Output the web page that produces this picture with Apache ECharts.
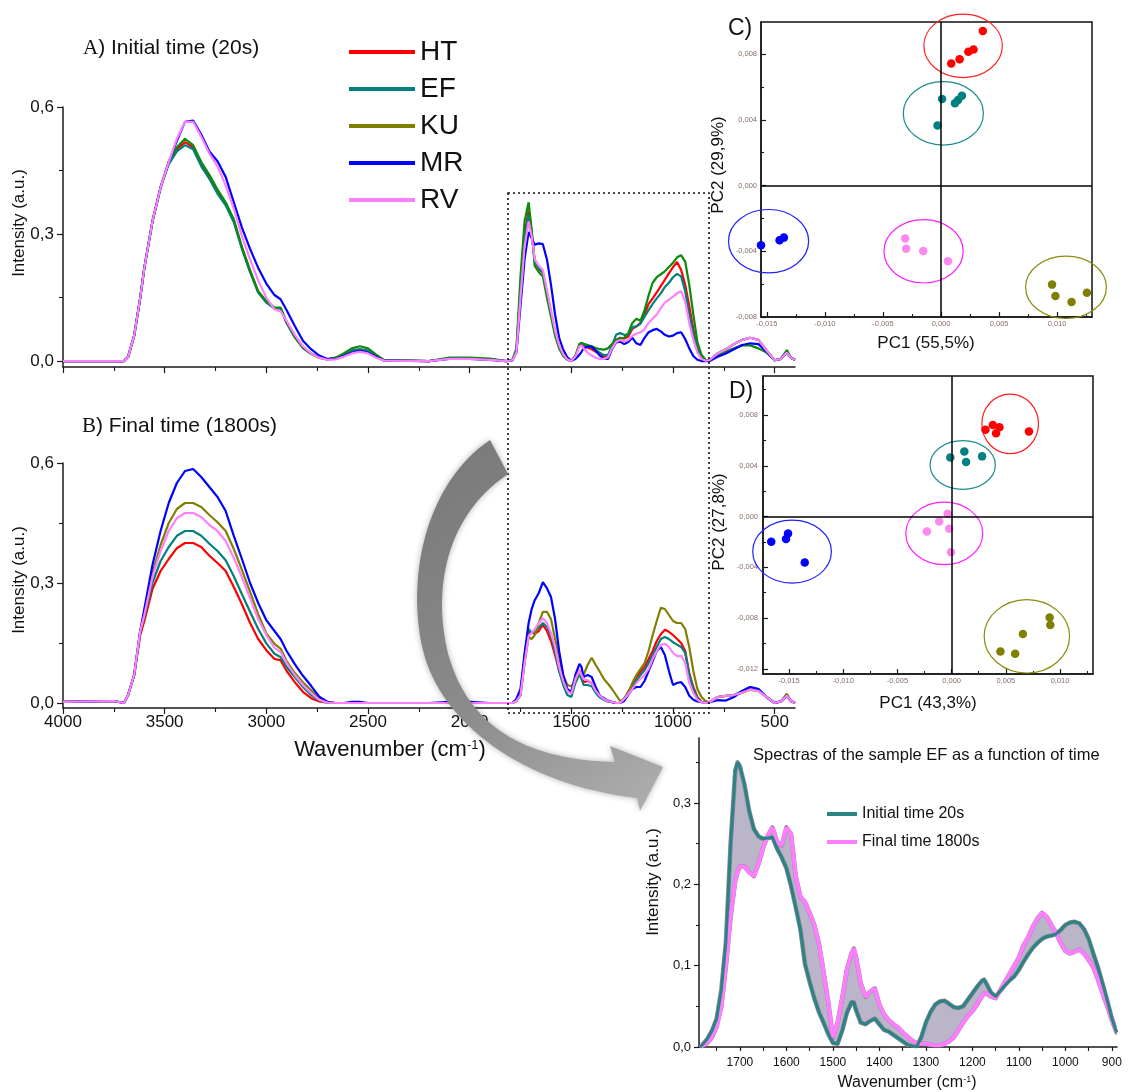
<!DOCTYPE html>
<html><head><meta charset="utf-8">
<script src="https://cdn.jsdelivr.net/npm/echarts@6/dist/echarts.min.js"></script>
<style>html,body{margin:0;padding:0;background:#fff}#c{width:1129px;height:1092px}</style>
</head><body><div id="c"></div>
<script>
// ---------- wavenumber grid for panels A and B ----------
const WN = [4000,3750,3700,3680,3650,3620,3600,3560,3520,3480,3440,
 3400,3360,3320,3280,3240,3200,3160,3120,3080,3040,3000,
 2960,2930,2900,2860,2820,2780,2740,2700,2660,2620,2580,2540,2500,2460,2420,
 2200,2100,2000,1900,
 1820,1790,1770,1750,1730,1710,1695,1680,1660,1640,1620,1600,1580,1560,1540,1520,1500,
 1480,1460,1450,1440,1420,1400,1380,1360,1340,1320,1300,1280,1260,1240,1220,
 1200,1180,1160,1140,1120,1100,1080,1060,1040,1020,1000,980,960,940,920,900,880,860,840,820,
 780,740,700,660,620,580,540,500,470,440,420,400];

// ---------- A) Initial time (20s) ----------
const A_HT = [0,0,0,0.01,0.06,0.15,0.22,0.33,0.41,0.47,0.5,
 0.517,0.505,0.465,0.435,0.4,0.371,0.331,0.267,0.212,0.163,0.14,
 0.125,0.125,0.09,0.057,0.031,0.017,0.008,0.004,0.007,0.015,0.025,0.028,0.024,0.012,0.002,
 0,0.006,0.006,0.004,
 0,0.002,0.025,0.17,0.3,0.355,0.305,0.235,0.218,0.208,0.16,0.113,0.066,0.034,0.014,0.004,0,
 0.011,0.038,0.04,0.037,0.032,0.028,0.022,0.016,0.011,0.012,0.033,0.05,0.055,0.053,0.058,
 0.076,0.082,0.09,0.11,0.135,0.148,0.162,0.177,0.192,0.207,0.222,0.234,0.215,0.18,0.13,0.075,0.03,0.01,0.002,0.002,
 0.018,0.028,0.04,0.05,0.055,0.05,0.025,0.002,0.005,0.02,0.008,0.003];
const A_EF = [0,0,0,0.01,0.06,0.15,0.22,0.33,0.41,0.465,0.495,
 0.51,0.5,0.46,0.43,0.395,0.368,0.328,0.265,0.21,0.162,0.138,
 0.124,0.125,0.09,0.056,0.031,0.017,0.008,0.004,0.007,0.015,0.025,0.028,0.024,0.012,0.002,
 0,0.006,0.006,0.004,
 0,0.002,0.025,0.17,0.29,0.345,0.3,0.235,0.22,0.21,0.16,0.115,0.068,0.035,0.015,0.004,0,
 0.012,0.04,0.043,0.04,0.036,0.033,0.026,0.02,0.014,0.014,0.036,0.062,0.066,0.062,0.062,
 0.08,0.082,0.088,0.105,0.12,0.135,0.148,0.16,0.175,0.185,0.198,0.206,0.2,0.165,0.11,0.065,0.025,0.008,0.002,0.002,
 0.018,0.028,0.04,0.05,0.055,0.05,0.025,0.002,0.005,0.02,0.008,0.003];
const A_KU = [0,0,0,0.01,0.06,0.15,0.22,0.33,0.41,0.47,0.505,
 0.525,0.51,0.47,0.44,0.405,0.375,0.335,0.27,0.215,0.165,0.142,
 0.126,0.126,0.092,0.058,0.032,0.018,0.008,0.004,0.008,0.018,0.03,0.035,0.03,0.015,0.002,
 0,0.008,0.008,0.006,
 0,0.002,0.03,0.2,0.33,0.375,0.31,0.225,0.21,0.2,0.15,0.105,0.06,0.03,0.012,0.003,0,
 0.012,0.04,0.043,0.041,0.038,0.035,0.031,0.028,0.027,0.03,0.04,0.05,0.053,0.055,0.066,
 0.09,0.1,0.095,0.12,0.155,0.185,0.198,0.205,0.212,0.222,0.232,0.245,0.25,0.235,0.18,0.11,0.045,0.015,0.003,0,
 0.014,0.022,0.03,0.037,0.037,0.03,0.02,0.002,0.005,0.026,0.008,0.003];
const A_MR = [0,0,0,0.01,0.06,0.15,0.22,0.33,0.41,0.47,0.52,
 0.565,0.568,0.535,0.495,0.472,0.435,0.375,0.315,0.265,0.22,0.183,
 0.156,0.146,0.12,0.083,0.048,0.028,0.013,0.005,0.005,0.012,0.02,0.024,0.02,0.01,0.001,
 0,0.005,0.005,0.003,
 0,0.002,0.02,0.13,0.24,0.305,0.29,0.275,0.278,0.276,0.24,0.18,0.11,0.055,0.027,0.009,0.001,
 0.005,0.015,0.022,0.03,0.034,0.034,0.025,0.013,0.006,0.005,0.028,0.044,0.046,0.04,0.045,
 0.055,0.042,0.038,0.055,0.068,0.073,0.076,0.07,0.062,0.058,0.06,0.066,0.068,0.052,0.03,0.012,0.003,0,0,0,
 0.01,0.018,0.028,0.038,0.042,0.04,0.022,0.002,0.005,0.02,0.008,0.003];
const A_RV = [0,0,0,0.01,0.06,0.15,0.22,0.33,0.41,0.47,0.525,
 0.565,0.565,0.53,0.49,0.46,0.415,0.36,0.295,0.24,0.19,0.15,
 0.122,0.118,0.095,0.062,0.035,0.018,0.008,0.003,0.004,0.01,0.018,0.022,0.018,0.008,0.001,
 0,0.005,0.005,0.003,
 0,0.002,0.02,0.15,0.27,0.33,0.295,0.24,0.225,0.215,0.168,0.12,0.072,0.038,0.016,0.004,0,
 0.01,0.035,0.037,0.03,0.02,0.013,0.008,0.005,0.005,0.009,0.03,0.045,0.05,0.046,0.05,
 0.06,0.065,0.068,0.075,0.09,0.1,0.11,0.125,0.138,0.145,0.152,0.16,0.165,0.14,0.09,0.05,0.02,0.005,0.001,0.002,
 0.018,0.028,0.04,0.05,0.055,0.05,0.025,0.002,0.005,0.02,0.008,0.003];

// ---------- B) Final time (1800s) ----------
const B_HT = [0.003,0.005,0,0.02,0.07,0.17,0.205,0.285,0.33,0.36,0.387,
 0.4,0.4,0.39,0.368,0.35,0.33,0.29,0.247,0.2,0.16,0.132,
 0.11,0.107,0.08,0.052,0.028,0.012,0.004,0.001,0,0,0,0,0,0,0,
 0,0,0,0,
 0,0,0.005,0.02,0.107,0.175,0.177,0.173,0.18,0.195,0.18,0.155,0.12,0.08,0.05,0.03,0.03,
 0.06,0.082,0.07,0.052,0.055,0.05,0.032,0.017,0.008,0.004,0.002,0,0,0.01,0.028,
 0.045,0.065,0.078,0.09,0.11,0.13,0.155,0.172,0.183,0.178,0.17,0.16,0.15,0.13,0.075,0.04,0.015,0.003,0,0.002,
 0.015,0.018,0.02,0.026,0.036,0.032,0.015,0,0.004,0.018,0.005,0];
const B_EF = [0.003,0.005,0,0.02,0.07,0.18,0.215,0.3,0.355,0.39,0.418,
 0.43,0.43,0.418,0.398,0.38,0.357,0.317,0.272,0.228,0.185,0.149,
 0.123,0.115,0.09,0.065,0.04,0.02,0.007,0.001,0,0,0,0,0,0,0,
 0,0,0,0,
 0,0,0.005,0.02,0.12,0.185,0.175,0.177,0.188,0.2,0.19,0.17,0.13,0.08,0.045,0.02,0.015,
 0.05,0.072,0.06,0.045,0.045,0.042,0.025,0.014,0.008,0.004,0.002,0,0,0.012,0.025,
 0.04,0.055,0.07,0.082,0.1,0.12,0.14,0.16,0.165,0.16,0.152,0.146,0.14,0.125,0.07,0.035,0.012,0.003,0,0.002,
 0.015,0.018,0.02,0.03,0.04,0.035,0.015,0,0.004,0.018,0.005,0];
const B_KU = [0.003,0.005,0,0.02,0.07,0.18,0.225,0.325,0.395,0.45,0.485,
 0.5,0.5,0.49,0.47,0.452,0.43,0.385,0.333,0.278,0.222,0.174,
 0.148,0.136,0.105,0.075,0.052,0.032,0.012,0.002,0,0,0,0,0,0,0,
 0,0,0,0,
 0,0,0.005,0.02,0.1,0.165,0.16,0.17,0.2,0.228,0.228,0.21,0.16,0.115,0.07,0.045,0.042,
 0.055,0.08,0.076,0.07,0.095,0.113,0.095,0.078,0.06,0.048,0.035,0.02,0.005,0.008,0.025,
 0.05,0.07,0.085,0.1,0.13,0.17,0.205,0.238,0.235,0.22,0.205,0.2,0.2,0.185,0.14,0.08,0.035,0.015,0.005,0.002,
 0.015,0.018,0.02,0.026,0.033,0.03,0.015,0,0.004,0.023,0.005,0];
const B_MR = [0.003,0.005,0,0.02,0.07,0.18,0.235,0.345,0.43,0.5,0.55,
 0.58,0.585,0.565,0.54,0.515,0.48,0.418,0.36,0.3,0.25,0.207,
 0.18,0.16,0.13,0.097,0.068,0.043,0.016,0.003,0,0,0.003,0.003,0,0,0,
 0,0.003,0.003,0,
 0,0,0.01,0.035,0.123,0.2,0.235,0.257,0.275,0.302,0.287,0.265,0.21,0.13,0.07,0.035,0.028,
 0.07,0.098,0.09,0.065,0.07,0.065,0.04,0.018,0.012,0.006,0.003,0,0,0.005,0.02,
 0.035,0.04,0.04,0.055,0.08,0.105,0.13,0.14,0.12,0.08,0.045,0.05,0.052,0.04,0.018,0.008,0.004,0.002,0,0.002,
 0.007,0.006,0.015,0.03,0.04,0.035,0.015,0,0.004,0.018,0.005,0];
const B_RV = [0.003,0.005,0,0.02,0.07,0.18,0.22,0.315,0.38,0.43,0.462,
 0.475,0.475,0.465,0.445,0.43,0.405,0.363,0.315,0.262,0.21,0.17,
 0.138,0.128,0.1,0.07,0.045,0.025,0.008,0.001,0,0,0,0,0,0,0,
 0,0,0,0,
 0,0,0.005,0.02,0.1,0.168,0.175,0.185,0.2,0.212,0.2,0.175,0.14,0.09,0.055,0.03,0.023,
 0.06,0.082,0.07,0.06,0.057,0.05,0.03,0.018,0.01,0.005,0.003,0,0,0.01,0.022,
 0.035,0.05,0.06,0.07,0.085,0.11,0.13,0.145,0.148,0.14,0.125,0.117,0.118,0.1,0.05,0.025,0.008,0.002,0,0.002,
 0.015,0.018,0.02,0.026,0.034,0.03,0.015,0,0.004,0.018,0.005,0];

// ---------- PCA scores [PC1, PC2] ----------
const C_HT = [[0.00088,0.00743],[0.0016,0.00768],[0.00235,0.00814],[0.0028,0.00828],[0.0036,0.0094]];
const C_EF = [[0.00009,0.00526],[-0.0003,0.00365],[0.0012,0.005],[0.00147,0.0052],[0.0018,0.00546]];
const C_KU = [[0.00956,-0.00603],[0.00985,-0.00672],[0.01124,-0.00709],[0.01256,-0.00652]];
const C_MR = [[-0.01565,-0.00329],[-0.0155,-0.00363],[-0.0139,-0.00333],[-0.01353,-0.00317]];
const C_RV = [[-0.00309,-0.00323],[-0.003,-0.00384],[-0.00153,-0.00398],[0.00059,-0.00461]];
// confidence ellipses [cx, cy, rx, ry]
const C_ELL = [[0.0019,0.0085,0.00338,0.00193],[0.0002,0.00439,0.00345,0.00193],[0.01076,-0.00619,0.00348,0.0019],[-0.01485,-0.00339,0.00345,0.00193],[-0.0015,-0.004,0.00341,0.00193]];

const D_HT = [[0.00312,0.00683],[0.0038,0.00722],[0.0041,0.00657],[0.00441,0.00704],[0.00713,0.0067]];
const D_EF = [[-0.00012,0.00466],[0.00117,0.00513],[0.00133,0.0043],[0.00281,0.00474]];
const D_KU = [[0.0045,-0.01063],[0.00586,-0.01081],[0.00657,-0.00925],[0.00904,-0.00795],[0.0091,-0.00855]];
const D_MR = [[-0.01664,-0.00198],[-0.01528,-0.00177],[-0.01509,-0.00133],[-0.01355,-0.00362]];
const D_RV = [[-0.00228,-0.00117],[-0.00114,-0.00039],[-0.00037,0.00023],[-0.00022,-0.00096],[-0.00006,-0.00281]];
const D_ELL = [[0.0054,0.0073,0.00261,0.00235],[0.00102,0.00406,0.00301,0.00192],[0.00694,-0.00943,0.00394,0.00289],[-0.01472,-0.00276,0.00363,0.00248],[-0.00068,-0.00133,0.00355,0.00246]];

// ---------- EF sample spectra vs time ----------
const EF_WN = [1785,1770,1760,1750,1740,1730,1720,1710,1705,1700,
 1690,1680,1670,1660,1650,1640,1630,1620,1610,1600,1590,1580,1570,1560,1550,1540,1530,1520,1510,1500,1490,1480,1470,1460,
 1455,
 1450,1440,1430,1420,1410,1400,1390,1380,1370,1360,1350,1340,1330,1320,1310,1300,1290,1280,1270,1260,1250,1240,1230,1220,1210,1200,1190,1180,
 1175,
 1170,1160,1150,1140,1130,1120,1110,1100,1090,1080,1070,1060,1050,1040,1030,1020,1010,1000,990,980,970,960,950,940,930,920,910,900,890];
const EF_INIT = [0,0.01,0.02,0.035,0.07,0.13,0.25,0.34,0.35,0.345,
 0.322,0.29,0.268,0.259,0.256,0.257,0.258,0.244,0.233,0.22,0.198,0.172,0.145,0.102,0.08,0.06,0.043,0.03,0.016,0.005,0.004,0.02,0.042,0.055,
 0.055,
 0.045,0.03,0.028,0.032,0.035,0.028,0.021,0.019,0.015,0.011,0.007,0.003,0.001,0,0.012,0.03,0.043,0.052,0.056,0.057,0.053,0.049,0.048,0.05,0.058,0.066,0.074,0.081,
 0.083,
 0.078,0.067,0.062,0.069,0.076,0.082,0.087,0.095,0.105,0.114,0.122,0.128,0.133,0.136,0.137,0.139,0.144,0.15,0.153,0.154,0.152,0.145,0.133,0.115,0.098,0.078,0.057,0.035,0.018];
const EF_FINAL = [0,0.005,0.012,0.025,0.05,0.1,0.16,0.205,0.215,0.222,
 0.222,0.215,0.21,0.225,0.245,0.26,0.27,0.252,0.248,0.27,0.262,0.21,0.185,0.178,0.165,0.15,0.127,0.092,0.055,0.012,0.03,0.06,0.095,0.115,
 0.121,
 0.11,0.078,0.062,0.068,0.072,0.052,0.04,0.033,0.028,0.024,0.018,0.013,0.008,0.005,0.004,0.004,0.003,0.002,0.002,0.004,0.007,0.012,0.021,0.03,0.038,0.044,0.052,0.062,
 0.066,
 0.066,0.062,0.06,0.07,0.08,0.09,0.1,0.11,0.125,0.135,0.148,0.158,0.165,0.16,0.15,0.14,0.128,0.118,0.115,0.117,0.12,0.115,0.107,0.098,0.083,0.066,0.05,0.033,0.018];

// ---------- tick values ----------
const SPEC_X_MAJ = [4000,3500,3000,2500,2000,1500,1000,500];
const SPEC_X_MIN = [3750,3250,2750,2250,1750,1250,750];
const SPEC_Y_MAJ = [0,0.3,0.6];
const SPEC_Y_MIN = [0.15,0.45];
const PC_X_MAJ = [-0.015,-0.01,-0.005,0,0.005,0.01];
const PC_X_MIN = [-0.0125,-0.0075,-0.0025,0.0025,0.0075,0.0125];
const C_Y_MAJ = [-0.008,-0.004,0,0.004,0.008];
const C_Y_MIN = [-0.006,-0.002,0.002,0.006];
const D_Y_MAJ = [-0.012,-0.008,-0.004,0,0.004,0.008];
const D_Y_MIN = [-0.01,-0.006,-0.002,0.002,0.006,0.01];
const EF_X_MAJ = [1700,1600,1500,1400,1300,1200,1100,1000,900];
const EF_X_MIN = [1750,1650,1550,1450,1350,1250,1150,1050,950];
const EF_Y_MAJ = [0,0.1,0.2,0.3];
const EF_Y_MIN = [0.05,0.15,0.25,0.35];

const NAMES = ['HT','EF','KU','MR','RV'];
const COL = {HT:'#ff0000', EF:'#008080', KU:'#808000', MR:'#0000ff', RV:'#ff80ff'};
const KU_A = '#0b8a0b';
const F = '"Liberation Sans", Arial, sans-serif';
const comma = d => v => (Math.abs(v) < 1e-12 ? 0 : v).toFixed(d).replace('.', ',');

// ---------- custom shapes (ellipse outline, curved arrow) ----------
const K = 0.5522847;
const EllShape = echarts.graphic.extendShape({
  type:'pcaEllipse',
  shape:{cx:0, cy:0, rx:1, ry:1},
  buildPath(ctx, s) {
    const {cx, cy, rx, ry} = s, ox = rx*K, oy = ry*K;
    ctx.moveTo(cx - rx, cy);
    ctx.bezierCurveTo(cx - rx, cy - oy, cx - ox, cy - ry, cx, cy - ry);
    ctx.bezierCurveTo(cx + ox, cy - ry, cx + rx, cy - oy, cx + rx, cy);
    ctx.bezierCurveTo(cx + rx, cy + oy, cx + ox, cy + ry, cx, cy + ry);
    ctx.bezierCurveTo(cx - ox, cy + ry, cx - rx, cy + oy, cx - rx, cy);
    ctx.closePath();
  }
});
echarts.graphic.registerShape('pcaEllipse', EllShape);
const ArrowShape = echarts.graphic.extendShape({
  type:'bigArrow',
  shape:{},
  buildPath(ctx) {
    ctx.moveTo(490, 440);
    ctx.bezierCurveTo(430, 480, 405, 570, 423, 650);
    ctx.bezierCurveTo(440, 722, 522, 785, 637, 798);
    ctx.lineTo(640, 811);
    ctx.lineTo(663, 767);
    ctx.lineTo(610, 746);
    ctx.lineTo(615, 762);
    ctx.bezierCurveTo(530, 760, 472, 730, 450, 660);
    ctx.bezierCurveTo(433, 600, 440, 520, 508, 474);
    ctx.closePath();
  }
});
echarts.graphic.registerShape('bigArrow', ArrowShape);

const xAxis = [], yAxis = [];
function addAxes(list, gi, pos, min, max, inv, maj, mnr, o) {
  const base = {type:'value', gridIndex:gi, position:pos, min, max, inverse:inv, splitLine:{show:false}};
  list.push(Object.assign({}, base, {
    axisLine:{show:true, onZero:false, lineStyle:{color:'#1a1a1a', width:o.lw || 1.5}},
    axisTick:{show:true, inside:!!o.inside, length:o.tl, customValues:maj, lineStyle:{color:'#1a1a1a', width:1.2}},
    axisLabel:{show:!!o.fmt, customValues:maj, formatter:o.fmt, fontSize:o.fs, color:o.lc || '#111', fontFamily:o.ff || F, margin:o.margin}
  }));
  list.push(Object.assign({}, base, {
    axisLine:{show:false, onZero:false},
    axisTick:{show:true, inside:!!o.inside, length:o.tm, customValues:mnr, lineStyle:{color:'#1a1a1a', width:1.1}},
    axisLabel:{show:false}
  }));
}
// grid 0: A, 1: B, 2: C, 3: D, 4: EF  -> major axis index = 2*gi
addAxes(xAxis, 0, 'bottom', 400, 4000, true, SPEC_X_MAJ, SPEC_X_MIN, {tl:6, tm:4});
addAxes(yAxis, 0, 'left', -0.014, 0.6, false, SPEC_Y_MAJ, SPEC_Y_MIN, {tl:6, tm:4, fmt:comma(1), fs:17, margin:9});
addAxes(xAxis, 1, 'bottom', 400, 4000, true, SPEC_X_MAJ, SPEC_X_MIN, {tl:6, tm:4, fmt:v=>String(v), fs:17, margin:6});
addAxes(yAxis, 1, 'left', -0.0125, 0.6, false, SPEC_Y_MAJ, SPEC_Y_MIN, {tl:6, tm:4, fmt:comma(1), fs:17, margin:9});
const pcLab = {fmt:comma(3), fs:7.5, lc:'#8a6e68', inside:true, tl:5, tm:3};
addAxes(xAxis, 2, 'bottom', -0.0155, 0.0130, false, PC_X_MAJ, PC_X_MIN, Object.assign({margin:3}, pcLab));
addAxes(yAxis, 2, 'left', -0.008, 0.00995, false, C_Y_MAJ, C_Y_MIN, Object.assign({margin:4}, pcLab));
addAxes(xAxis, 3, 'bottom', -0.0174, 0.01304, false, PC_X_MAJ, PC_X_MIN, Object.assign({margin:3}, pcLab));
addAxes(yAxis, 3, 'left', -0.0124, 0.01107, false, D_Y_MAJ, D_Y_MIN, Object.assign({margin:5}, pcLab));
addAxes(xAxis, 4, 'bottom', 889, 1788, true, EF_X_MAJ, EF_X_MIN, {tl:4, tm:4, fmt:v=>String(v), fs:12, margin:10, ff:'"Liberation Sans Narrow", "Liberation Sans", Arial, sans-serif'});
addAxes(yAxis, 4, 'left', 0, 0.38, false, EF_Y_MAJ, EF_Y_MIN, {tl:5, tm:3, fmt:comma(1), fs:13, margin:8});

const boxGrid = {show:true, borderColor:'#111', borderWidth:1.5, backgroundColor:'#fff'};
const grid = [
  {left:63, top:107, width:732, height:260, outerBoundsMode:'none'},
  {left:63, top:463, width:732, height:245, outerBoundsMode:'none'},
  Object.assign({left:761, top:22, width:331, height:295, outerBoundsMode:'none'}, boxGrid),
  Object.assign({left:763, top:376, width:330, height:298, outerBoundsMode:'none'}, boxGrid),
  {left:699, top:738, width:418, height:309, outerBoundsMode:'none'}
];

function spec(name, arr, color, gi) {
  return {name, type:'line', xAxisIndex:2*gi, yAxisIndex:2*gi, data: WN.map((w,i)=>[w, arr[i]]),
    showSymbol:false, symbol:'none', lineStyle:{color, width:2.2}, itemStyle:{color}, silent:true};
}
function scat(name, data, color, gi, zeroLines) {
  const s = {name, type:'scatter', xAxisIndex:2*gi, yAxisIndex:2*gi, data, symbol:'circle', symbolSize:8.5,
    itemStyle:{color, opacity:1}, silent:true, z:4};
  if (zeroLines) s.markLine = {silent:true, symbol:'none', label:{show:false}, animation:false,
    lineStyle:{color:'#000', type:'solid', width:1.5}, data:[{xAxis:0},{yAxis:0}]};
  return s;
}
const ELL_COL = ['#ff2020','#1a8c8c','#8c8c10','#2020ff','#ff20ff'];
function ellipses(name, data, gi) {
  return {name, type:'custom', xAxisIndex:2*gi, yAxisIndex:2*gi, clip:false, silent:true, z:3, data,
    renderItem: (params, api) => {
      const c = api.coord([api.value(0), api.value(1)]);
      const s = api.size([api.value(2), api.value(3)]);
      return {type:'pcaEllipse', shape:{cx:c[0], cy:c[1], rx:Math.abs(s[0]), ry:Math.abs(s[1])},
        style:{fill:'none', stroke:ELL_COL[params.dataIndex], lineWidth:1.2}};
    }};
}

const series = [
  // panel B (declared first so the legend takes these colours)
  spec('HT', B_HT, COL.HT, 1), spec('EF', B_EF, COL.EF, 1), spec('KU', B_KU, COL.KU, 1),
  spec('MR', B_MR, COL.MR, 1), spec('RV', B_RV, COL.RV, 1),
  // panel A
  spec('HT', A_HT, COL.HT, 0), spec('EF', A_EF, COL.EF, 0), spec('KU', A_KU, KU_A, 0),
  spec('MR', A_MR, COL.MR, 0), spec('RV', A_RV, COL.RV, 0),
  // panel C
  ellipses('C ell', C_ELL, 2),
  scat('C HT', C_HT, '#ff0000', 2, true), scat('C EF', C_EF, '#008080', 2), scat('C KU', C_KU, '#808000', 2),
  scat('C MR', C_MR, '#0000ff', 2), scat('C RV', C_RV, '#ff88ee', 2),
  // panel D
  ellipses('D ell', D_ELL, 3),
  scat('D HT', D_HT, '#ff0000', 3, true), scat('D EF', D_EF, '#008080', 3), scat('D KU', D_KU, '#808000', 3),
  scat('D MR', D_MR, '#0000ff', 3), scat('D RV', D_RV, '#ff88ee', 3),
  // panel EF: region swept between the initial and the final spectrum
  {name:'EF band', type:'custom', xAxisIndex:8, yAxisIndex:8, data:[[1300, 0.1]], silent:true, z:2, clip:true,
    renderItem: (params, api) => {
      const up = EF_WN.map((w,i)=>api.coord([w, EF_INIT[i]]));
      const dn = EF_WN.map((w,i)=>api.coord([w, EF_FINAL[i]])).reverse();
      return {type:'polygon', shape:{points: up.concat(dn)},
        style:{fill:'#bab5c8', stroke:'#8d889c', lineWidth:4.5, lineJoin:'round'}};
    }},
  {name:'Initial time 20s', type:'line', xAxisIndex:8, yAxisIndex:8, data:EF_WN.map((w,i)=>[w, EF_INIT[i]]),
    showSymbol:false, symbol:'none', lineStyle:{color:'#2b8484', width:3}, itemStyle:{color:'#2b8484'}, silent:true, z:5},
  {name:'Final time 1800s', type:'line', xAxisIndex:8, yAxisIndex:8, data:EF_WN.map((w,i)=>[w, EF_FINAL[i]]),
    showSymbol:false, symbol:'none', lineStyle:{color:'#ff7dff', width:4}, itemStyle:{color:'#ff7dff'}, silent:true, z:4}
];

function txt(x, y, text, size, o) {
  o = o || {};
  return {type:'text', x, y, rotation:o.rot || 0, z:o.z || 60,
    style:Object.assign({text, fontSize:size, fontFamily:F, fill:'#111', align:o.align || 'center', verticalAlign:'middle'}, o.style || {})};
}
const supRich = s => ({n:{fontSize:s, fontFamily:F, fill:'#111'}, u:{fontSize:Math.round(s*0.58), fontFamily:F, fill:'#111', verticalAlign:'top'}});

const graphic = [
  // dotted zoom box
  {type:'rect', z:40, shape:{x:508, y:193, width:201, height:520},
    style:{fill:'none', stroke:'#111', lineWidth:1.6, lineDash:[2,3]}},
  // curved grey arrow
  {type:'bigArrow', z:100, shape:{},
    style:{fill:new echarts.graphic.LinearGradient(0,0,1,1,[{offset:0,color:'#787878'},{offset:0.55,color:'#8a8a8a'},{offset:1,color:'#b0b0b0'}]),
      shadowBlur:6, shadowColor:'rgba(0,0,0,0.3)'}},
  txt(83, 48, '{s|A}{n|) Initial time (20s)}', 21, {align:'left', style:{rich:{s:{fontFamily:'"Liberation Serif", serif', fontSize:21, fill:'#111'}, n:{fontFamily:F, fontSize:21, fill:'#111'}}}}),
  txt(82, 426, '{s|B}{n|) Final time (1800s)}', 21, {align:'left', style:{rich:{s:{fontFamily:'"Liberation Serif", serif', fontSize:21, fill:'#111'}, n:{fontFamily:F, fontSize:21, fill:'#111'}}}}),
  txt(19, 223, 'Intensity (a.u.)', 17, {rot:Math.PI/2}),
  txt(19, 580, 'Intensity (a.u.)', 17, {rot:Math.PI/2}),
  txt(390, 750, '{n|Wavenumber (cm}{u|-1}{n|)}', 22, {style:{rich:supRich(22)}}),
  txt(728, 29, 'C)', 23, {align:'left'}),
  txt(729, 392, 'D)', 23, {align:'left'}),
  txt(718, 165, 'PC2 (29,9%)', 17, {rot:Math.PI/2}),
  txt(926, 343, 'PC1 (55,5%)', 17),
  txt(719, 522, 'PC2 (27,8%)', 17, {rot:Math.PI/2}),
  txt(928, 703, 'PC1 (43,3%)', 17),
  txt(753, 755, 'Spectras of the sample EF as a function of time', 16.5, {align:'left'}),
  txt(653, 882, 'Intensity (a.u.)', 17, {rot:Math.PI/2}),
  txt(907, 1083, '{n|Wavenumber (cm}{u|-1}{n|)}', 16, {style:{rich:supRich(16)}})
];

const option = {
  animation:false,
  backgroundColor:'#fff',
  textStyle:{fontFamily:F},
  grid, xAxis, yAxis, series, graphic,
  legend:[
    {data:NAMES.map(n=>({name:n, itemStyle:{color:COL[n]}})), orient:'vertical', left:344, top:33,
      itemWidth:66, itemHeight:4, itemGap:9, icon:'rect', selectedMode:false,
      textStyle:{fontSize:28, lineHeight:28, color:'#111', fontFamily:F}},
    {data:['Initial time 20s','Final time 1800s'], orient:'vertical', left:822, top:801,
      itemWidth:30, itemHeight:4, itemGap:12, icon:'rect', selectedMode:false,
      textStyle:{fontSize:16, lineHeight:16, color:'#111', fontFamily:F}}
  ]
};
const chart = echarts.init(document.getElementById('c'), null, {renderer:'canvas'});
chart.setOption(option);
</script>
</body></html>
